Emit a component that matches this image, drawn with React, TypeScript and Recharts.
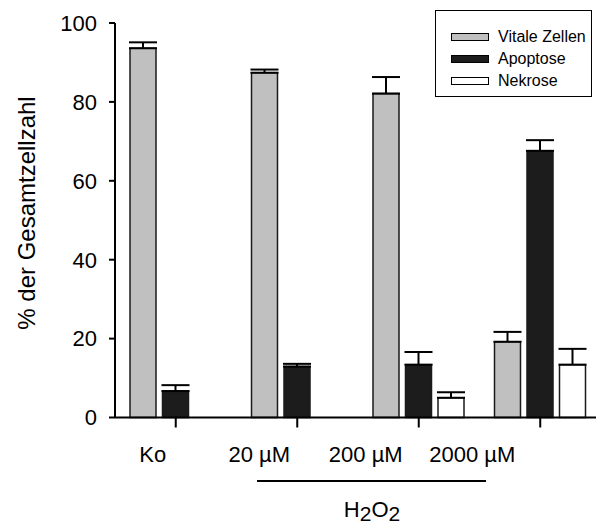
import React from "react";
import { BarChart, Bar, XAxis, YAxis, ErrorBar, Legend } from "recharts";

const categories = ["Ko", "20 µM", "200 µM", "2000 µM"];
const vitale = [93.6, 87.4, 82.1, 19.2];
const vitaleErr = [1.5, 0.8, 4.2, 2.5];
const apoptose = [6.7, 12.9, 13.4, 67.6];
const apoptoseErr = [1.5, 0.7, 3.2, 2.7];
const nekrose = [null, null, 5.0, 13.4];
const nekroseErr = [null, null, 1.4, 4.0];
const yTicks = [0, 20, 40, 60, 80, 100];

const series = [
  { key: "vitale", name: "Vitale Zellen", fill: "#c0c0c0" },
  { key: "apoptose", name: "Apoptose", fill: "#1c1c1c" },
  { key: "nekrose", name: "Nekrose", fill: "#ffffff" },
];

const data = categories.map((name, i) => ({
  name,
  vitale: vitale[i],
  vitaleErr: [0, vitaleErr[i]],
  apoptose: apoptose[i],
  apoptoseErr: [0, apoptoseErr[i]],
  nekrose: nekrose[i],
  nekroseErr: nekroseErr[i] == null ? null : [0, nekroseErr[i]],
}));

const font = "'Liberation Sans', Arial, sans-serif";

function XTick(props: any) {
  const { x, y, payload, index } = props;
  // labels sit a bit left of the ticks in the original
  const dx = -23 - 15 * index;
  return (
    <text
      x={x + dx}
      y={y + 32}
      textAnchor="middle"
      fontSize={22}
      fontFamily={font}
      fill="#000"
    >
      {payload.value}
    </text>
  );
}

function YLabel() {
  return (
    <text
      x={26}
      y={213}
      transform="rotate(-90 26 213)"
      textAnchor="middle"
      dominantBaseline="central"
      fontSize={24}
      fontFamily={font}
      fill="#000"
    >
      % der Gesamtzellzahl
    </text>
  );
}

function LegendBox() {
  return (
    <div
      style={{
        border: "1.5px solid #000",
        width: 157,
        height: 87,
        boxSizing: "border-box",
        paddingTop: 15,
        paddingLeft: 15,
        fontFamily: font,
        fontSize: 16,
        background: "#fff",
      }}
    >
      {series.map((s) => (
        <div
          key={s.key}
          style={{ display: "flex", alignItems: "center", height: 22 }}
        >
          <span
            style={{
              display: "inline-block",
              width: 38,
              height: 8,
              background: s.fill,
              border: "1.5px solid #000",
              boxSizing: "border-box",
              marginRight: 9,
            }}
          />
          <span>{s.name}</span>
        </div>
      ))}
    </div>
  );
}

export default function App() {
  return (
    <div
      style={{
        position: "absolute",
        left: 0,
        top: 0,
        width: 596,
        height: 525,
        overflow: "hidden",
        background: "#fff",
      }}
    >
      <BarChart
        width={601}
        height={525}
        data={data}
        margin={{ top: 23, right: 0, bottom: 67.5, left: 0 }}
        barCategoryGap={15}
        barGap={6.5}
      >
        <XAxis
          dataKey="name"
          height={40}
          tickSize={10}
          tick={<XTick />}
          axisLine={{ stroke: "#000", strokeWidth: 2 }}
          tickLine={{ stroke: "#000", strokeWidth: 2 }}
          interval={0}
        />
        <YAxis
          width={115}
          domain={[0, 100]}
          ticks={yTicks}
          tickSize={6}
          tickMargin={12}
          tick={{ fontSize: 22, fontFamily: font, fill: "#000" }}
          axisLine={{ stroke: "#000", strokeWidth: 2 }}
          tickLine={{ stroke: "#000", strokeWidth: 2 }}
          label={<YLabel />}
        />
        <Legend
          layout="horizontal"
          verticalAlign="middle"
          align="center"
          content={<LegendBox />}
          wrapperStyle={{ position: "absolute", top: 10, left: 435, width: 157 }}
        />
        {series.map((s) => (
          <Bar
            key={s.key}
            dataKey={s.key}
            name={s.name}
            fill={s.fill}
            stroke="#1a1a1a"
            strokeWidth={1.5}
            isAnimationActive={false}
          >
            <ErrorBar
              dataKey={s.key + "Err"}
              width={14}
              stroke="#000"
              strokeWidth={2}
              direction="y"
            />
          </Bar>
        ))}
      </BarChart>
      <svg
        width={596}
        height={525}
        style={{ position: "absolute", left: 0, top: 0, pointerEvents: "none" }}
      >
        <line x1={257} y1={481} x2={486} y2={481} stroke="#000" strokeWidth={2} />
        <text
          x={372}
          y={517}
          textAnchor="middle"
          fontSize={22}
          fontFamily={font}
          fill="#000"
        >
          H<tspan fontSize={21} dy={4}>2</tspan>
          <tspan dy={-4}>O</tspan>
          <tspan fontSize={21} dy={4}>2</tspan>
        </text>
      </svg>
    </div>
  );
}
